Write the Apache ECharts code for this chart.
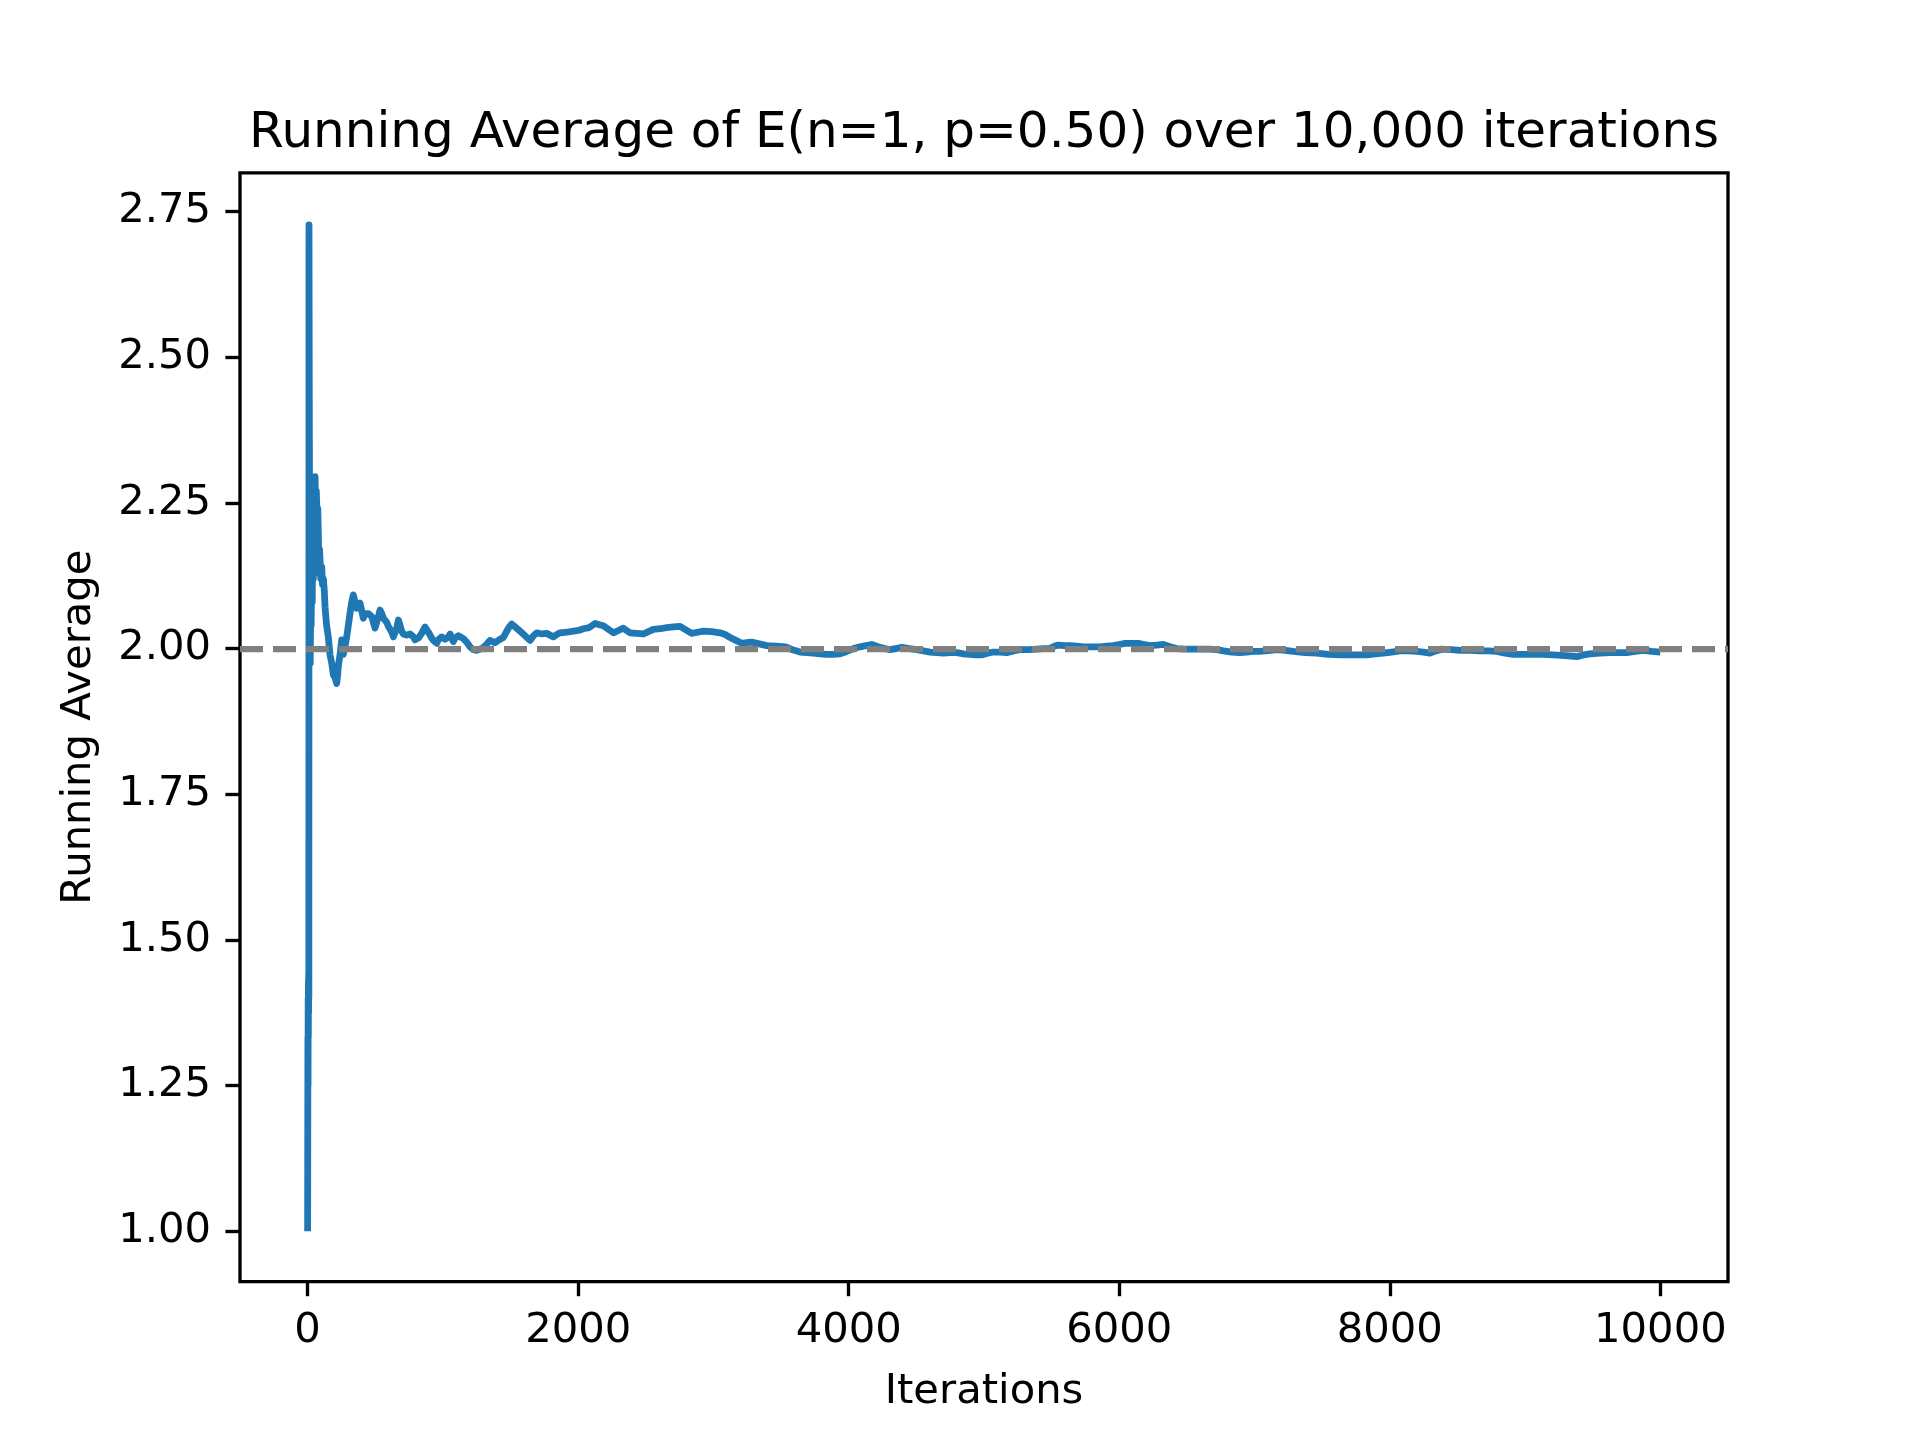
<!DOCTYPE html>
<html>
<head>
<meta charset="utf-8">
<script src="https://cdn.jsdelivr.net/npm/echarts@6/dist/echarts.min.js"></script>
<style>
html,body{margin:0;padding:0;background:#fff;}
#chart{width:1920px;height:1440px;}
</style>
</head>
<body>
<div id="chart"></div>
<script>
// ---- data ----
const titleText = "Running Average of E(n=1, p=0.50) over 10,000 iterations";
const xAxisName = "Iterations";
const yAxisName = "Running Average";
const expectedValue = 2.0;
const xTickValues = [0, 2000, 4000, 6000, 8000, 10000];
const yTickValues = [1.00, 1.25, 1.50, 1.75, 2.00, 2.25, 2.50, 2.75];

const iterations = [
  0,1,2,3,4,5,6,7,8,9,10,11,12,13,14,15,16,17,18,19,20,
  23,26,30,34,38,42,46,50,55,60,64,67,71,75,79,84,88,92,97,104,110,116,123,129,
  140,153,165,178,190,203,215,222,227,240,252,258,264,277,289,301,313,326,338,350,
  363,375,387,400,412,424,437,449,461,474,486,498,511,523,535,548,560,572,585,597,
  609,622,634,646,658,671,683,696,708,720,733,745,758,770,782,794,807,819,831,843,
  856,868,875,880,893,905,917,929,942,954,966,979,991,1003,1016,1028,1040,1053,1065,
  1077,1090,1102,1114,1127,1151,1176,1200,1225,1250,1287,1318,1348,1385,1416,1447,
  1472,1490,1509,1540,1570,1607,1644,1670,1694,1730,1767,1792,1817,1842,1866,1915,
  1964,2001,2038,2082,2125,2156,2186,2223,2260,2297,2334,2358,2383,2432,2482,2519,
  2556,2605,2655,2704,2753,2796,2839,2882,2925,2987,3049,3086,3123,3166,3209,3246,
  3283,3338,3394,3462,3529,3585,3640,3689,3738,3788,3837,3886,3936,3985,4034,4084,
  4127,4170,4232,4305,4349,4392,4448,4503,4552,4601,4650,4700,4749,4799,4848,4897,
  4940,4983,5026,5069,5118,5168,5217,5267,5328,5390,5439,5488,5519,5550,5593,5636,
  5686,5735,5797,5858,5907,5956,6000,6043,6092,6141,6185,6228,6277,6326,6376,6425,
  6487,6548,6610,6671,6720,6770,6832,6893,6942,6991,7041,7115,7164,7226,7287,7374,
  7460,7546,7632,7731,7829,7891,7952,8014,8076,8138,8199,8248,8297,8341,8384,8452,
  8519,8593,8667,8729,8790,8852,8913,8987,9061,9135,9209,9296,9382,9431,9480,9554,
  9628,9690,9751,9813,9874,9937,9999
];

const runningAverage = [
  1.000,1.000,1.333,1.250,1.400,1.333,1.429,1.375,1.444,1.400,2.727,2.583,2.462,2.357,2.267,2.188,2.118,2.056,2.000,1.975,2.000,
  2.090,2.040,2.140,2.080,2.200,2.120,2.240,2.180,2.295,2.220,2.270,2.250,2.190,2.240,2.200,2.130,2.170,2.150,2.120,2.140,2.110,2.120,2.100,2.070,
  2.040,2.020,1.990,1.975,1.955,1.950,1.940,1.955,1.970,1.990,2.015,1.995,1.990,2.005,2.020,2.040,2.060,2.080,2.092,2.080,
  2.069,2.074,2.078,2.065,2.052,2.060,2.063,2.060,2.058,2.055,2.045,2.035,2.032,2.055,2.066,2.060,2.052,2.050,2.045,2.038,
  2.035,2.028,2.020,2.022,2.035,2.049,2.040,2.029,2.025,2.024,2.023,2.022,2.025,2.026,2.020,2.015,2.012,2.018,2.022,2.026,
  2.032,2.037,2.040,2.036,2.028,2.023,2.018,2.014,2.011,2.009,2.015,2.018,2.020,2.019,2.016,2.015,2.020,2.025,2.018,
  2.012,2.018,2.020,2.022,2.023,2.017,2.011,2.003,1.998,1.997,2.000,2.006,2.014,2.010,2.015,2.019,
  2.030,2.037,2.042,2.036,2.030,2.022,2.014,2.022,2.027,2.025,2.026,2.023,2.020,2.024,2.027,2.028,
  2.030,2.031,2.034,2.036,2.043,2.041,2.039,2.033,2.027,2.031,2.035,2.031,2.027,2.026,2.025,2.029,
  2.033,2.034,2.036,2.037,2.038,2.032,2.026,2.028,2.030,2.029,2.027,2.024,2.019,2.014,2.009,2.010,
  2.011,2.008,2.005,2.004,2.003,1.998,1.994,1.993,1.992,1.991,1.990,1.990,1.991,1.995,2.000,2.003,
  2.005,2.007,2.002,1.998,2.000,2.002,2.000,1.998,1.996,1.994,1.993,1.992,1.993,1.993,1.991,1.990,
  1.989,1.989,1.992,1.994,1.994,1.993,1.996,1.998,1.998,1.999,2.000,2.000,2.004,2.006,2.005,2.005,
  2.004,2.003,2.003,2.003,2.004,2.005,2.007,2.009,2.009,2.009,2.007,2.005,2.006,2.007,2.003,2.000,
  1.999,1.999,1.999,1.999,1.998,1.996,1.994,1.993,1.994,1.995,1.995,1.997,1.998,1.997,1.995,1.993,
  1.992,1.990,1.989,1.989,1.989,1.991,1.992,1.994,1.996,1.996,1.995,1.994,1.992,1.996,1.999,1.998,
  1.997,1.997,1.996,1.996,1.995,1.992,1.990,1.990,1.990,1.990,1.989,1.988,1.986,1.989,1.991,1.992,
  1.993,1.993,1.993,1.995,1.997,1.995,1.994
];

// ---- chart ----
const seriesData = iterations.map((x, i) => [x, runningAverage[i]]);
const FONT = "DejaVu Sans";
const chart = echarts.init(document.getElementById('chart'), null, {renderer: 'canvas'});

chart.setOption({
  animation: false,
  backgroundColor: '#ffffff',
  title: {
    text: titleText,
    left: 979,
    top: 104,
    textAlign: 'center',
    textStyle: {fontFamily: FONT, fontSize: 50, fontWeight: 'normal', color: '#000'}
  },
  grid: {
    left: 240, right: 192, top: 172.8, bottom: 158.4,
    show: true, borderColor: '#000', borderWidth: 3.33, backgroundColor: 'transparent'
  },
  xAxis: {
    type: 'value',
    min: -500, max: 10500,
    name: xAxisName,
    nameLocation: 'middle',
    nameGap: 90,
    nameTextStyle: {fontFamily: FONT, fontSize: 41.7, color: '#000'},
    axisLine: {show: false, onZero: false},
    splitLine: {show: false},
    axisTick: {show: true, inside: false, length: 14.6, lineStyle: {color: '#000', width: 3.33}, customValues: xTickValues},
    axisLabel: {show: true, margin: 29, fontFamily: FONT, fontSize: 41.7, color: '#000', customValues: xTickValues,
      formatter: v => String(Math.round(v))}
  },
  yAxis: {
    type: 'value',
    min: 0.9135, max: 2.8165,
    name: yAxisName,
    nameLocation: 'middle',
    nameGap: 140,
    nameRotate: 90,
    nameTextStyle: {fontFamily: FONT, fontSize: 41.7, color: '#000'},
    axisLine: {show: false, onZero: false},
    splitLine: {show: false},
    axisTick: {show: true, inside: false, length: 14.6, lineStyle: {color: '#000', width: 3.33}, customValues: yTickValues},
    axisLabel: {show: true, margin: 29, fontFamily: FONT, fontSize: 41.7, color: '#000', customValues: yTickValues,
      formatter: v => v.toFixed(2)}
  },
  series: [
    {
      type: 'line',
      data: [],
      z: 1,
      silent: true,
      markLine: {
        silent: true,
        symbol: ['none', 'none'],
        label: {show: false},
        lineStyle: {color: '#808080', width: 6.25, type: [23, 10], cap: 'butt'},
        data: [{yAxis: expectedValue}]
      }
    },
    {
      type: 'line',
      data: seriesData,
      z: 3,
      showSymbol: false,
      symbol: 'none',
      lineStyle: {color: '#1f77b4', width: 6.8, join: 'round', cap: 'butt'},
      emphasis: {disabled: true}
    }
  ]
});
</script>
</body>
</html>
